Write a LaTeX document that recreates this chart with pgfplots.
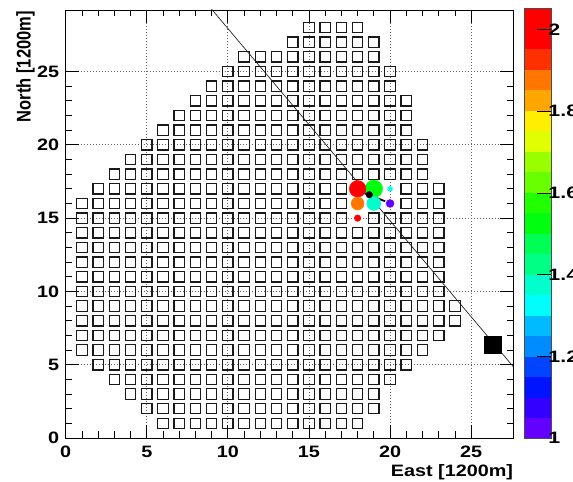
\documentclass[border=0pt]{standalone}
\usepackage{fontspec}
\setmainfont{Liberation Sans}
\usepackage{pgfplots}
\pgfplotsset{compat=1.18}
\usetikzlibrary{arrows.meta}
\pgfplotsset{/pgf/number format/assume math mode=true,
  hit/.style={scatter, only marks, mark=*, point meta=explicit, mark size=#1,
    scatter/use mapped color={draw=mapped color, fill=mapped color}}}
\definecolor{c0}{Hsb}{263.2,1,1}
\definecolor{c1}{Hsb}{252,1,1}
\definecolor{c2}{Hsb}{235.2,1,1}
\definecolor{c3}{Hsb}{224,1,1}
\definecolor{c4}{Hsb}{207.2,1,1}
\definecolor{c5}{Hsb}{196,1,1}
\definecolor{c6}{Hsb}{179.2,1,1}
\definecolor{c7}{Hsb}{168,1,1}
\definecolor{c8}{Hsb}{151.2,1,1}
\definecolor{c9}{Hsb}{140,1,1}
\definecolor{c10}{Hsb}{123.2,1,1}
\definecolor{c11}{Hsb}{112,1,1}
\definecolor{c12}{Hsb}{95.2,1,1}
\definecolor{c13}{Hsb}{84,1,1}
\definecolor{c14}{Hsb}{67.2,1,1}
\definecolor{c15}{Hsb}{56,1,1}
\definecolor{c16}{Hsb}{39.2,1,1}
\definecolor{c17}{Hsb}{28,1,1}
\definecolor{c18}{Hsb}{11.2,1,1}
\definecolor{c19}{Hsb}{0,1,1}
\newcommand{\lbl}{\fontsize{16.5bp}{16.5bp}\selectfont\bfseries}
\begin{document}
\begin{tikzpicture}
\begin{axis}[
  at={(65.7bp,44bp)}, anchor=south west,
  scale only axis, width=447.6bp, height=428bp,
  xmin=0, xmax=27.6, ymin=0, ymax=29.2,
  xtick={0,5,10,15,20,25}, ytick={0,5,10,15,20,25},
  minor x tick num=4, minor y tick num=4,
  tick align=inside, xtick pos=both, ytick pos=both,
  major tick length=13bp, minor tick length=6.5bp,
  tick style={black, line width=0.8bp},
  axis line style={black, line width=0.8bp},
  grid=major,
  major grid style={black!60, line width=0.8bp, dash pattern=on 1bp off 2bp},
  tick label style={font=\lbl, xscale=1.2},
  xticklabel style={yshift=-4.5bp},
  yticklabel style={xshift=-2bp},
  xlabel={East [1200m]}, ylabel={North [1200m]},
  xlabel style={at={(axis description cs:1,-0.0888)}, anchor=base east, inner sep=0pt, font=\lbl, xscale=1.2},
  ylabel style={at={(axis description cs:-0.0786,0.9977)}, anchor=base east, inner sep=0pt, font=\lbl, yscale=1.2},
  colormap={ta}{color=(c0) color=(c1) color=(c2) color=(c3) color=(c4) color=(c5) color=(c6) color=(c7) color=(c8) color=(c9) color=(c10) color=(c11) color=(c12) color=(c13) color=(c14) color=(c15) color=(c16) color=(c17) color=(c18) color=(c19) color=(c19)},
  colormap access=piecewise constant,
  point meta min=1, point meta max=2.052,
  colorbar,
  colorbar style={
    at={(parent axis.north east)}, anchor=north west,
    xshift=2.5bp, yshift=1.7bp,
    scale only axis, width=26.7bp, height=429.7bp,
    ytick={1,1.2,1.4,1.6,1.8,2},
    ytick pos=right, yticklabel pos=right,
    tick align=inside, major tick length=14bp,
    tick style={black, line width=0.8bp},
    axis line style={black!70, line width=0.5bp},
    yticklabel style={font=\lbl, xscale=1.08, anchor=west, xshift=-5.5bp},
  },
]
% detector grid (non-hit detectors)
\addplot[only marks, mark=square, mark size=5.2bp, mark options={line width=1.2bp, draw=black!90}] coordinates {
(6,1)(7,1)(8,1)(9,1)(10,1)(11,1)(12,1)(13,1)(14,1)(15,1)(16,1)(17,1)(18,1)
(5,2)(6,2)(7,2)(8,2)(9,2)(10,2)(11,2)(12,2)(13,2)(14,2)(15,2)(16,2)(17,2)(18,2)(19,2)
(4,3)(5,3)(6,3)(7,3)(8,3)(9,3)(10,3)(11,3)(12,3)(13,3)(14,3)(15,3)(16,3)(17,3)(18,3)(19,3)
(3,4)(4,4)(5,4)(6,4)(7,4)(8,4)(9,4)(10,4)(11,4)(12,4)(13,4)(14,4)(15,4)(16,4)(17,4)(18,4)(19,4)(20,4)
(2,5)(3,5)(4,5)(5,5)(6,5)(7,5)(8,5)(9,5)(10,5)(11,5)(12,5)(13,5)(14,5)(15,5)(16,5)(17,5)(18,5)(19,5)(20,5)(21,5)
(1,6)(2,6)(3,6)(4,6)(5,6)(6,6)(7,6)(8,6)(9,6)(10,6)(11,6)(12,6)(13,6)(14,6)(15,6)(16,6)(17,6)(18,6)(19,6)(20,6)(21,6)(22,6)
(1,7)(2,7)(3,7)(4,7)(5,7)(6,7)(7,7)(8,7)(9,7)(10,7)(11,7)(12,7)(13,7)(14,7)(15,7)(16,7)(17,7)(18,7)(19,7)(20,7)(21,7)(22,7)(23,7)
(1,8)(2,8)(3,8)(4,8)(5,8)(6,8)(7,8)(8,8)(9,8)(10,8)(11,8)(12,8)(13,8)(14,8)(15,8)(16,8)(17,8)(18,8)(19,8)(20,8)(21,8)(22,8)(23,8)(24,8)
(1,9)(2,9)(3,9)(4,9)(5,9)(6,9)(7,9)(8,9)(9,9)(10,9)(11,9)(12,9)(13,9)(14,9)(15,9)(16,9)(17,9)(18,9)(19,9)(20,9)(21,9)(22,9)(23,9)(24,9)
(1,10)(2,10)(3,10)(4,10)(5,10)(6,10)(7,10)(8,10)(9,10)(10,10)(11,10)(12,10)(13,10)(14,10)(15,10)(16,10)(17,10)(18,10)(19,10)(20,10)(21,10)(22,10)(23,10)
(1,11)(2,11)(3,11)(4,11)(5,11)(6,11)(7,11)(8,11)(9,11)(10,11)(11,11)(12,11)(13,11)(14,11)(15,11)(16,11)(17,11)(18,11)(19,11)(20,11)(21,11)(22,11)(23,11)
(1,12)(2,12)(3,12)(4,12)(5,12)(6,12)(7,12)(8,12)(9,12)(10,12)(11,12)(12,12)(13,12)(14,12)(15,12)(16,12)(17,12)(18,12)(19,12)(20,12)(21,12)(22,12)(23,12)
(1,13)(2,13)(3,13)(4,13)(5,13)(6,13)(7,13)(8,13)(9,13)(10,13)(11,13)(12,13)(13,13)(14,13)(15,13)(16,13)(17,13)(18,13)(19,13)(20,13)(21,13)(22,13)(23,13)
(1,14)(2,14)(3,14)(4,14)(5,14)(6,14)(7,14)(8,14)(9,14)(10,14)(11,14)(12,14)(13,14)(14,14)(15,14)(16,14)(17,14)(18,14)(19,14)(20,14)(21,14)(22,14)(23,14)
(1,15)(2,15)(3,15)(4,15)(5,15)(6,15)(7,15)(8,15)(9,15)(10,15)(11,15)(12,15)(13,15)(14,15)(15,15)(16,15)(17,15)(19,15)(20,15)(21,15)(22,15)(23,15)
(1,16)(2,16)(3,16)(4,16)(5,16)(6,16)(7,16)(8,16)(9,16)(10,16)(11,16)(12,16)(13,16)(14,16)(15,16)(16,16)(17,16)(21,16)(22,16)(23,16)
(2,17)(3,17)(4,17)(5,17)(6,17)(7,17)(8,17)(9,17)(10,17)(11,17)(12,17)(13,17)(14,17)(15,17)(16,17)(17,17)(21,17)(22,17)(23,17)
(3,18)(4,18)(5,18)(6,18)(7,18)(8,18)(9,18)(10,18)(11,18)(12,18)(13,18)(14,18)(15,18)(16,18)(17,18)(18,18)(19,18)(20,18)(21,18)(22,18)
(4,19)(5,19)(6,19)(7,19)(8,19)(9,19)(10,19)(11,19)(12,19)(13,19)(14,19)(15,19)(16,19)(17,19)(18,19)(19,19)(20,19)(21,19)(22,19)
(5,20)(6,20)(7,20)(8,20)(9,20)(10,20)(11,20)(12,20)(13,20)(14,20)(15,20)(16,20)(17,20)(18,20)(19,20)(20,20)(21,20)(22,20)
(6,21)(7,21)(8,21)(9,21)(10,21)(11,21)(12,21)(13,21)(14,21)(15,21)(16,21)(17,21)(18,21)(19,21)(20,21)(21,21)
(7,22)(8,22)(9,22)(10,22)(11,22)(12,22)(13,22)(14,22)(15,22)(16,22)(17,22)(18,22)(19,22)(20,22)(21,22)
(8,23)(9,23)(10,23)(11,23)(12,23)(13,23)(14,23)(15,23)(16,23)(17,23)(18,23)(19,23)(20,23)(21,23)
(9,24)(10,24)(11,24)(12,24)(13,24)(14,24)(15,24)(16,24)(17,24)(18,24)(19,24)(20,24)
(10,25)(11,25)(12,25)(13,25)(14,25)(15,25)(16,25)(17,25)(18,25)(19,25)(20,25)
(11,26)(12,26)(13,26)(14,26)(15,26)(16,26)(17,26)(18,26)(19,26)
(14,27)(15,27)(16,27)(17,27)(18,27)(19,27)
(15,28)(16,28)(17,28)(18,28)
};
% shower axis projection
\addplot[black!85, line width=0.7bp] coordinates {(8.84,29.46) (27.8,4.60)};
% hit detectors (colour = value on the colour scale, size = signal)
\addplot[hit=8.8bp] coordinates {(19,17) [1.55]};
\addplot[hit=8.3bp] coordinates {(18,17) [2.03]};
\addplot[hit=6.5bp] coordinates {(18,16) [1.87]};
\addplot[hit=7.0bp] coordinates {(19,16) [1.39]};
\addplot[hit=4.0bp] coordinates {(20,16) [1.03]};
\addplot[hit=3.3bp] coordinates {(18,15) [2.03]};
\addplot[hit=2.5bp] coordinates {(20,17) [1.34]};
% core and direction arrow
\addplot[black, line width=1.8bp, -{Latex[length=8bp, width=7bp]}] coordinates {(19.7,16.15) (17.73,17.0)};
\addplot[only marks, mark=*, mark size=3.3bp, black] coordinates {(18.72,16.6)};
\addplot[only marks, mark=square*, mark size=8.6bp, black] coordinates {(26.34,6.37)};
\end{axis}
\pgfresetboundingbox
\path[use as bounding box] (0,0) rectangle (573bp,482bp);
\end{tikzpicture}
\end{document}
